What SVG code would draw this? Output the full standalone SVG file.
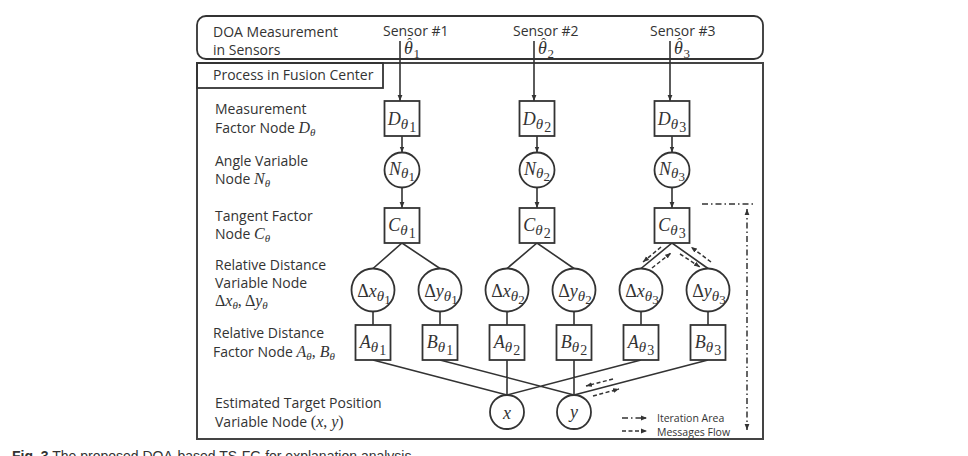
<svg xmlns="http://www.w3.org/2000/svg" width="968" height="456" viewBox="0 0 968 456">
<style>
.lbl{font-family:"Open Sans","Liberation Sans",sans-serif;font-size:14px;fill:#333}
.m{font-family:"Liberation Serif","DejaVu Serif",serif;font-style:italic}
.nl{font-family:"Liberation Serif","DejaVu Serif",serif;font-style:italic;font-size:18px;fill:#333}
.up{font-style:normal}
.box{fill:#fff;stroke:#333;stroke-width:1.8}
.ln{fill:none;stroke:#333;stroke-width:1.6}
.dd{fill:none;stroke:#333;stroke-width:1.5;stroke-dasharray:4 2.5}
.dot{fill:none;stroke:#333;stroke-width:1.5;stroke-dasharray:6 3 1.5 3}
.leg{font-family:"Open Sans","Liberation Sans",sans-serif;font-size:10.5px;fill:#333}
</style>
<defs>
<marker id="ah" viewBox="0 0 10 10" refX="10" refY="5" markerWidth="6" markerHeight="6" markerUnits="userSpaceOnUse" orient="auto-start-reverse"><path d="M0,1 L10,5 L0,9 z" fill="#333"/></marker>
</defs>
<rect width="968" height="456" fill="#fff"/>

<g id="sensors">
<rect x="197" y="16" width="566" height="43" rx="9" fill="none" stroke="#333" stroke-width="1.8"/>
<text class="lbl" x="213" y="37">DOA Measurement</text>
<text class="lbl" x="213" y="55">in Sensors</text>
<text class="lbl" x="383" y="36">Sensor #1</text>
<text class="lbl" x="513" y="36">Sensor #2</text>
<text class="lbl" x="650" y="36">Sensor #3</text>
<text class="nl" x="404" y="54" font-size="17">θ<tspan class="up" font-size="14" dx="-5.5" dy="-6">ˆ</tspan><tspan class="up" font-size="13" dx="1.5" dy="10">1</tspan></text>
<text class="nl" x="538" y="54" font-size="17">θ<tspan class="up" font-size="14" dx="-5.5" dy="-6">ˆ</tspan><tspan class="up" font-size="13" dx="1.5" dy="10">2</tspan></text>
<text class="nl" x="674" y="54" font-size="17">θ<tspan class="up" font-size="14" dx="-5.5" dy="-6">ˆ</tspan><tspan class="up" font-size="13" dx="1.5" dy="10">3</tspan></text>
</g>

<g id="fusion">
<rect x="197" y="63" width="566" height="376" fill="none" stroke="#444" stroke-width="2"/>
<rect x="197" y="63" width="186" height="25" fill="none" stroke="#333" stroke-width="1.8"/>
<text class="lbl" x="213" y="80">Process in Fusion Center</text>
</g>

<g id="labels">
<text class="lbl" x="215" y="114">Measurement</text>
<text class="lbl" x="215" y="133">Factor Node <tspan class="m" font-size="16">D</tspan><tspan class="m" font-size="11" dy="3">θ</tspan></text>
<text class="lbl" x="215" y="166">Angle Variable</text>
<text class="lbl" x="215" y="184">Node <tspan class="m" font-size="16">N</tspan><tspan class="m" font-size="11" dy="3">θ</tspan></text>
<text class="lbl" x="215" y="221">Tangent Factor</text>
<text class="lbl" x="215" y="239">Node <tspan class="m" font-size="16">C</tspan><tspan class="m" font-size="11" dy="3">θ</tspan></text>
<text class="lbl" x="215" y="270">Relative Distance</text>
<text class="lbl" x="215" y="288">Variable Node</text>
<text class="lbl" x="215" y="306"><tspan class="m up" font-size="16">Δ</tspan><tspan class="m" font-size="16">x</tspan><tspan class="m" font-size="11" dy="3">θ</tspan><tspan class="m up" font-size="16" dy="-3">, Δ</tspan><tspan class="m" font-size="16">y</tspan><tspan class="m" font-size="11" dy="3">θ</tspan></text>
<text class="lbl" x="213" y="338">Relative Distance</text>
<text class="lbl" x="213" y="357">Factor Node <tspan class="m" font-size="16">A</tspan><tspan class="m" font-size="11" dy="3">θ</tspan><tspan class="m up" font-size="16" dy="-3">, </tspan><tspan class="m" font-size="16">B</tspan><tspan class="m" font-size="11" dy="3">θ</tspan></text>
<text class="lbl" x="215" y="408">Estimated Target Position</text>
<text class="lbl" x="215" y="427">Variable Node <tspan class="m up" font-size="16">(</tspan><tspan class="m" font-size="16">x</tspan><tspan class="m up" font-size="16">, </tspan><tspan class="m" font-size="16">y</tspan><tspan class="m up" font-size="16">)</tspan></text>
</g>

<g id="connectors">
<line class="ln" x1="400" y1="41" x2="400" y2="101" marker-end="url(#ah)"/>
<line class="ln" x1="534" y1="41" x2="534" y2="101" marker-end="url(#ah)"/>
<line class="ln" x1="670" y1="41" x2="670" y2="101" marker-end="url(#ah)"/>
<line class="ln" x1="402" y1="136" x2="402" y2="152.5" marker-end="url(#ah)"/>
<line class="ln" x1="537" y1="136" x2="537" y2="152.5" marker-end="url(#ah)"/>
<line class="ln" x1="672" y1="136" x2="672" y2="152.5" marker-end="url(#ah)"/>
<line class="ln" x1="402" y1="187.5" x2="402" y2="208" marker-end="url(#ah)"/>
<line class="ln" x1="537" y1="187.5" x2="537" y2="208" marker-end="url(#ah)"/>
<line class="ln" x1="672" y1="187.5" x2="672" y2="208" marker-end="url(#ah)"/>
<path class="ln" d="M373,268.5 L402,243 L440,268.5 M507,268.5 L537,243 L574,268.5 M641,268.5 L672,243 L708,268.5"/>
<path class="ln" d="M373,311.5 V325 M440,311.5 V325 M507,311.5 V325 M574,311.5 V325 M641,311.5 V325 M708,311.5 V325"/>
<path class="ln" d="M373,360 L507,395 L507,360 M641,360 L507,395 M440,360 L574,395 L574,360 M708,360 L574,395"/>
<line class="dd" x1="661" y1="247" x2="643" y2="262" marker-end="url(#ah)"/>
<line class="dd" x1="652" y1="268" x2="671" y2="253" marker-end="url(#ah)"/>
<line class="dd" x1="711" y1="262" x2="691" y2="247" marker-end="url(#ah)"/>
<line class="dd" x1="680" y1="254" x2="700" y2="267" marker-end="url(#ah)"/>
<line class="dd" x1="613" y1="379" x2="586" y2="386" marker-end="url(#ah)"/>
<line class="dd" x1="593" y1="396" x2="619" y2="389" marker-end="url(#ah)"/>
<line class="dot" x1="702" y1="204" x2="756" y2="204"/>
<line class="dot" x1="747" y1="209" x2="747" y2="430" marker-start="url(#ah)" marker-end="url(#ah)"/>
</g>

<g id="col1">
<g id="D1"><rect class="box" x="384.5" y="101" width="35" height="35"/><text class="nl" x="402" y="125" text-anchor="middle">D<tspan font-size="15" dy="4">θ</tspan><tspan class="up" font-size="14" dx="1" dy="3">1</tspan></text></g>
<g id="N1"><circle class="box" cx="402" cy="170" r="17.5"/><text class="nl" x="402" y="175" text-anchor="middle">N<tspan font-size="15" dy="3">θ</tspan><tspan class="up" font-size="13" dy="3">1</tspan></text></g>
<g id="C1"><rect class="box" x="384.5" y="208" width="35" height="35"/><text class="nl" x="402" y="231" text-anchor="middle">C<tspan font-size="15" dy="4">θ</tspan><tspan class="up" font-size="14" dx="1" dy="3">1</tspan></text></g>
<g id="DX1"><circle class="box" cx="373" cy="290" r="21.5"/><text class="nl" x="374" y="297" text-anchor="middle"><tspan class="up">Δ</tspan>x<tspan font-size="15" dy="4">θ</tspan><tspan class="up" font-size="13" dy="3">1</tspan></text></g>
<g id="DY1"><circle class="box" cx="440" cy="290" r="21.5"/><text class="nl" x="441" y="297" text-anchor="middle"><tspan class="up">Δ</tspan>y<tspan font-size="15" dy="4">θ</tspan><tspan class="up" font-size="13" dy="3">1</tspan></text></g>
<g id="A1"><rect class="box" x="355.5" y="325" width="35" height="35"/><text class="nl" x="373" y="348" text-anchor="middle">A<tspan font-size="15" dy="4">θ</tspan><tspan class="up" font-size="14" dx="1" dy="3">1</tspan></text></g>
<g id="B1"><rect class="box" x="422.5" y="325" width="35" height="35"/><text class="nl" x="440" y="348" text-anchor="middle">B<tspan font-size="15" dy="4">θ</tspan><tspan class="up" font-size="14" dx="1" dy="3">1</tspan></text></g>
</g>

<g id="col2">
<g id="D2"><rect class="box" x="519.5" y="101" width="35" height="35"/><text class="nl" x="537" y="125" text-anchor="middle">D<tspan font-size="15" dy="4">θ</tspan><tspan class="up" font-size="14" dx="1" dy="3">2</tspan></text></g>
<g id="N2"><circle class="box" cx="537" cy="170" r="17.5"/><text class="nl" x="537" y="175" text-anchor="middle">N<tspan font-size="15" dy="3">θ</tspan><tspan class="up" font-size="13" dy="3">2</tspan></text></g>
<g id="C2"><rect class="box" x="519.5" y="208" width="35" height="35"/><text class="nl" x="537" y="231" text-anchor="middle">C<tspan font-size="15" dy="4">θ</tspan><tspan class="up" font-size="14" dx="1" dy="3">2</tspan></text></g>
<g id="DX2"><circle class="box" cx="507" cy="290" r="21.5"/><text class="nl" x="508" y="297" text-anchor="middle"><tspan class="up">Δ</tspan>x<tspan font-size="15" dy="4">θ</tspan><tspan class="up" font-size="13" dy="3">2</tspan></text></g>
<g id="DY2"><circle class="box" cx="574" cy="290" r="21.5"/><text class="nl" x="575" y="297" text-anchor="middle"><tspan class="up">Δ</tspan>y<tspan font-size="15" dy="4">θ</tspan><tspan class="up" font-size="13" dy="3">2</tspan></text></g>
<g id="A2"><rect class="box" x="489.5" y="325" width="35" height="35"/><text class="nl" x="507" y="348" text-anchor="middle">A<tspan font-size="15" dy="4">θ</tspan><tspan class="up" font-size="14" dx="1" dy="3">2</tspan></text></g>
<g id="B2"><rect class="box" x="556.5" y="325" width="35" height="35"/><text class="nl" x="574" y="348" text-anchor="middle">B<tspan font-size="15" dy="4">θ</tspan><tspan class="up" font-size="14" dx="1" dy="3">2</tspan></text></g>
</g>

<g id="col3">
<g id="D3"><rect class="box" x="654.5" y="101" width="35" height="35"/><text class="nl" x="672" y="125" text-anchor="middle">D<tspan font-size="15" dy="4">θ</tspan><tspan class="up" font-size="14" dx="1" dy="3">3</tspan></text></g>
<g id="N3"><circle class="box" cx="672" cy="170" r="17.5"/><text class="nl" x="672" y="175" text-anchor="middle">N<tspan font-size="15" dy="3">θ</tspan><tspan class="up" font-size="13" dy="3">3</tspan></text></g>
<g id="C3"><rect class="box" x="654.5" y="208" width="35" height="35"/><text class="nl" x="672" y="231" text-anchor="middle">C<tspan font-size="15" dy="4">θ</tspan><tspan class="up" font-size="14" dx="1" dy="3">3</tspan></text></g>
<g id="DX3"><circle class="box" cx="641" cy="290" r="21.5"/><text class="nl" x="642" y="297" text-anchor="middle"><tspan class="up">Δ</tspan>x<tspan font-size="15" dy="4">θ</tspan><tspan class="up" font-size="13" dy="3">3</tspan></text></g>
<g id="DY3"><circle class="box" cx="708" cy="290" r="21.5"/><text class="nl" x="709" y="297" text-anchor="middle"><tspan class="up">Δ</tspan>y<tspan font-size="15" dy="4">θ</tspan><tspan class="up" font-size="13" dy="3">3</tspan></text></g>
<g id="A3"><rect class="box" x="623.5" y="325" width="35" height="35"/><text class="nl" x="641" y="348" text-anchor="middle">A<tspan font-size="15" dy="4">θ</tspan><tspan class="up" font-size="14" dx="1" dy="3">3</tspan></text></g>
<g id="B3"><rect class="box" x="690.5" y="325" width="35" height="35"/><text class="nl" x="708" y="348" text-anchor="middle">B<tspan font-size="15" dy="4">θ</tspan><tspan class="up" font-size="14" dx="1" dy="3">3</tspan></text></g>
</g>

<g id="X"><circle class="box" cx="507" cy="412" r="17"/><text class="nl" x="507" y="419" text-anchor="middle" font-size="20">x</text></g>
<g id="Y"><circle class="box" cx="574" cy="412" r="17"/><text class="nl" x="574" y="418" text-anchor="middle" font-size="20">y</text></g>

<g id="legend">
<line class="dot" x1="622" y1="418" x2="647" y2="418" marker-end="url(#ah)"/>
<line class="dd" x1="622" y1="431" x2="647" y2="431" marker-end="url(#ah)"/>
<text class="leg" x="657" y="422">Iteration Area</text>
<text class="leg" x="657" y="436">Messages Flow</text>
</g>

<text x="12" y="461" font-family="Liberation Sans, sans-serif" font-size="14" fill="#333"><tspan font-weight="bold">Fig. 3</tspan> The proposed DOA-based TS-FG for explanation analysis</text>
</svg>
